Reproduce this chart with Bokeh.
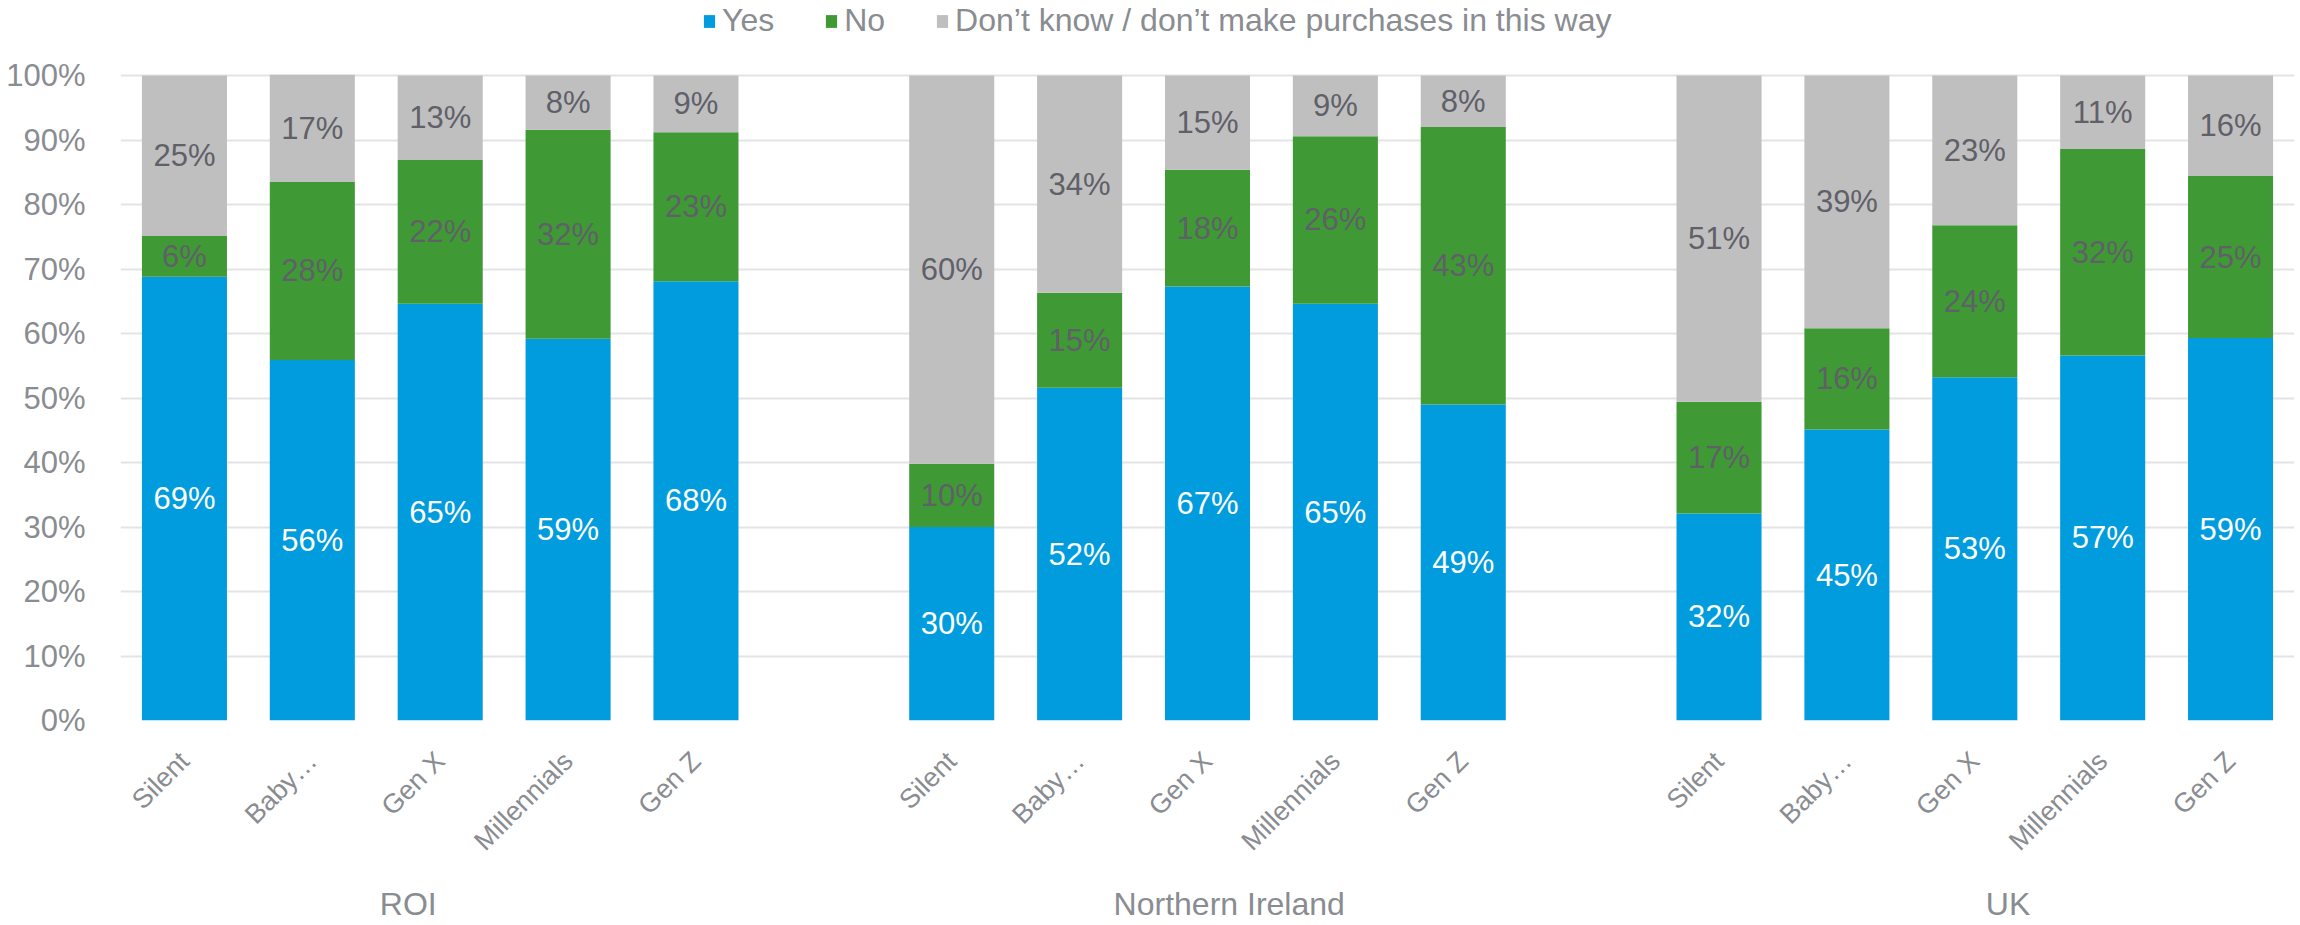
import math
from bokeh.plotting import figure
from bokeh.models import (ColumnDataSource, FixedTicker, PrintfTickFormatter, Legend,
                          LegendItem, LinearAxis, Range1d)
from bokeh.embed import file_html
from bokeh.resources import INLINE
from bokeh.core.properties import value

# ---------------- data ----------------
regions = ["ROI", "Northern Ireland", "UK"]
generations = ["Silent", "Baby…", "Gen X", "Millennials", "Gen Z"]
series_names = ["Yes", "No", "Don’t know / don’t make purchases in this way"]

yes = [68.8, 55.9, 64.6, 59.2, 68.1,
       30.0, 51.6, 67.3, 64.6, 49.0,
       32.1, 45.1, 53.2, 56.6, 59.3]
no = [6.3, 27.6, 22.3, 32.4, 23.1,
      9.8, 14.7, 18.1, 26.0, 43.0,
      17.3, 15.7, 23.6, 32.0, 25.1]
dk = [24.9, 16.6, 13.1, 8.4, 8.8,
      60.2, 33.7, 14.6, 9.4, 8.0,
      50.6, 39.2, 23.2, 11.4, 15.6]

y_ticks = [0, 10, 20, 30, 40, 50, 60, 70, 80, 90, 100]

# ---------------- styles / layout ----------------
colors = ["#009cde", "#3f9a35", "#bfbfbf"]
label_colors = ["#ffffff", "#5f6068", "#5f6068"]
axis_text = "#898c91"
FONT = "Liberation Sans"
W, H = 2300, 925
LEFT, RIGHT, BOTTOM = 120, 6, 205
SLOTS_PER_GROUP = len(generations) + 1
group_label_pos = [1.75, 8.17, 14.26]

xs = [g * SLOTS_PER_GROUP + i for g in range(len(regions)) for i in range(len(generations))]
tick_labels = {x: generations[i % len(generations)] for i, x in enumerate(xs)}

src = ColumnDataSource(dict(x=xs, yes=yes, no=no, dk=dk))

p = figure(width=W, height=H, output_backend="svg", toolbar_location=None,
           x_range=Range1d(-0.5, 16.5), y_range=Range1d(0, 100 * 720 / 645),
           min_border_left=LEFT, min_border_right=RIGHT, min_border_top=0,
           min_border_bottom=BOTTOM)
p.outline_line_color = None
p.background_fill_color = "white"

rs = p.vbar_stack(["yes", "no", "dk"], x="x", width=0.665, source=src,
                  color=colors, line_color=None)

# data labels
series_vals = [yes, no, dk]
for k, vals in enumerate(series_vals):
    ys, txt = [], []
    for j, v in enumerate(vals):
        base = sum(series_vals[m][j] for m in range(k))
        ys.append(base + v / 2)
        txt.append(f"{int(v + 0.5)}%")
    p.text(x=xs, y=ys, text=txt, text_align="center", text_baseline="middle",
           text_color=label_colors[k], text_font=value(FONT),
           text_font_size=value("31px"))

# axes
p.yaxis.ticker = FixedTicker(ticks=y_ticks)
p.yaxis.formatter = PrintfTickFormatter(format="%d%%")
p.yaxis.axis_line_color = None
p.yaxis.major_tick_line_color = None
p.yaxis.minor_tick_line_color = None
p.yaxis.major_label_standoff = 29
p.yaxis.major_label_text_font = FONT
p.yaxis.major_label_text_font_size = "31px"
p.yaxis.major_label_text_color = axis_text

p.xaxis.ticker = FixedTicker(ticks=xs)
p.xaxis.major_label_overrides = tick_labels
p.xaxis.major_label_orientation = math.pi / 4
p.xaxis.axis_line_color = None
p.xaxis.major_tick_line_color = None
p.xaxis.minor_tick_line_color = None
p.xaxis.major_label_standoff = 30
p.xaxis.major_label_text_font = FONT
p.xaxis.major_label_text_font_size = "27px"
p.xaxis.major_label_text_color = axis_text

# group labels as a second, outer category axis
gaxis = LinearAxis(ticker=FixedTicker(ticks=group_label_pos),
                   major_label_overrides={x: n for x, n in zip(group_label_pos, regions)},
                   axis_line_color=None, major_tick_line_color=None,
                   minor_tick_line_color=None, major_label_standoff=10,
                   major_label_text_font=FONT, major_label_text_font_size="32px",
                   major_label_text_color=axis_text)
p.add_layout(gaxis, "below")

p.xgrid.grid_line_color = None
p.ygrid.ticker = FixedTicker(ticks=y_ticks)
p.ygrid.grid_line_color = "#e4e4e4"
p.ygrid.grid_line_width = 2

legend = Legend(items=[LegendItem(label=n, renderers=[r]) for n, r in zip(series_names, rs)],
                location=(582, 681), orientation="horizontal",
                glyph_width=14, glyph_height=16, label_standoff=6, spacing=50,
                padding=0, margin=0, border_line_color=None, background_fill_alpha=0,
                label_text_font=FONT, label_text_font_size="32px",
                label_text_color=axis_text)
p.add_layout(legend, "center")

open("out.html", "w").write(file_html(p, INLINE))
